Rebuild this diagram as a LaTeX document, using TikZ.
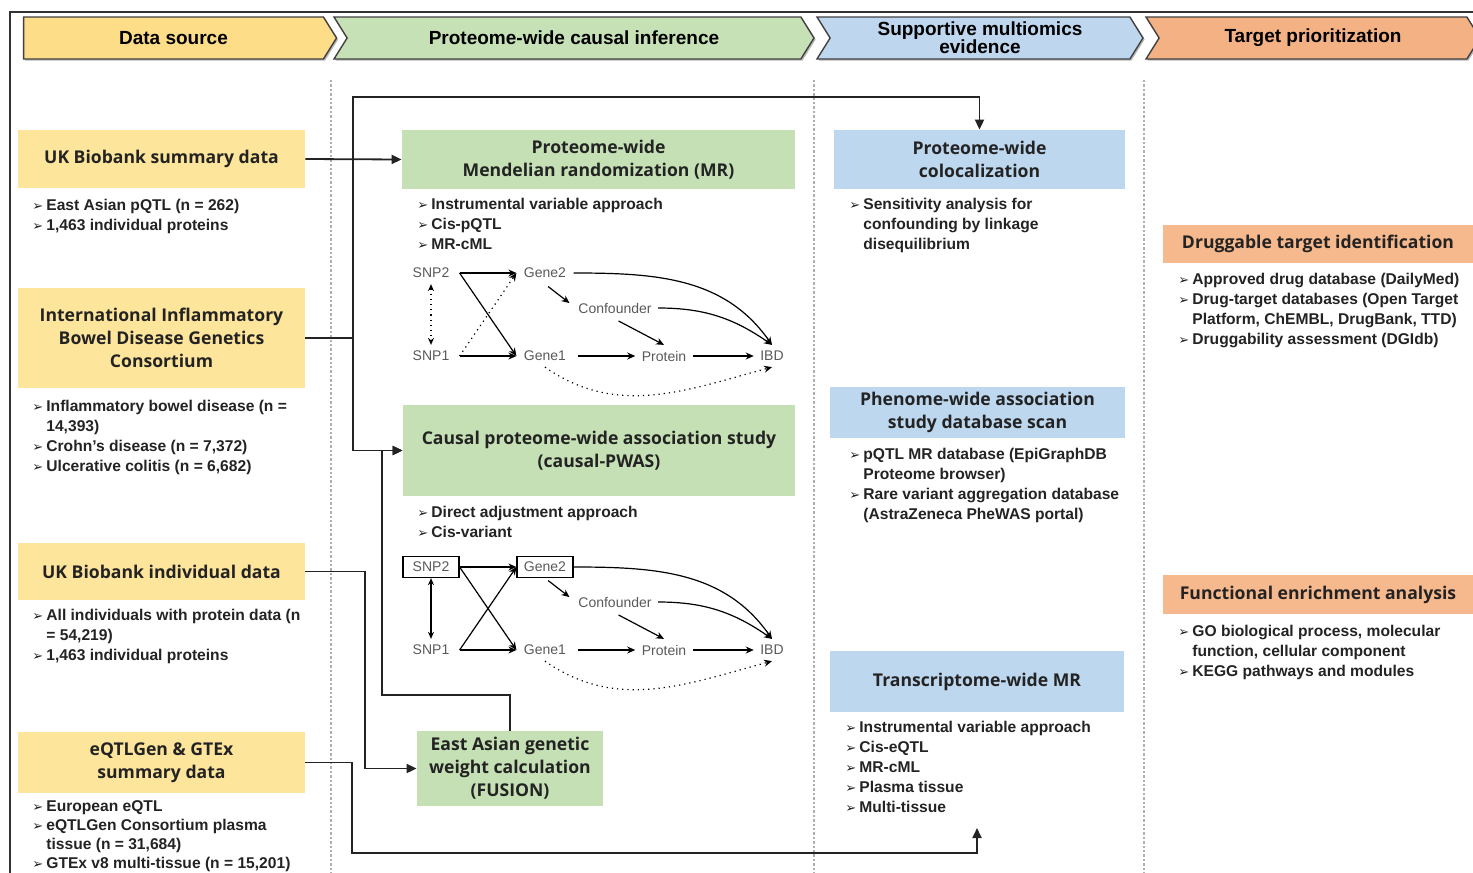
\documentclass[tikz,border=0pt]{standalone}
\usepackage{fontspec}
\setmainfont{Liberation Sans}
\newfontfamily\ttl{Open Sans}
\newfontfamily\sym{DejaVu Sans}
\usetikzlibrary{arrows.meta, positioning, shapes.symbols, shadows, calc}
\definecolor{YH}{RGB}{254,221,136}
\definecolor{YB}{RGB}{254,229,156}
\definecolor{GH}{RGB}{199,225,182}
\definecolor{GB}{RGB}{197,224,180}
\definecolor{BH}{RGB}{190,215,238}
\definecolor{BB}{RGB}{189,215,238}
\definecolor{OH}{RGB}{244,178,132}
\definecolor{OB}{RGB}{246,184,141}
\definecolor{DG}{RGB}{35,35,35}
\definecolor{LGr}{RGB}{175,175,175}
\newcommand{\bl}{\makebox[7pt][l]{\sym\fontsize{6.5}{6.5}\selectfont ➢}}
\newcommand{\ind}{\hspace*{7pt}}

\begin{document}
\begin{tikzpicture}[x=0.5pt, y=0.5pt,
  hd/.style={signal, signal to=east, fill=#1, draw=black!75, line width=0.7pt,
             minimum height=21pt, signal pointer angle=116, inner sep=0pt,
             align=center, font=\fontsize{9.5}{9}\selectfont\bfseries,
             drop shadow={shadow xshift=0.8pt, shadow yshift=-0.8pt, fill=black!55}},
  sbox/.style={fill=#1, inner sep=2pt, align=center, text=DG,
               font=\ttl\bfseries\fontsize{8.8}{11.5}\selectfont},
  lst/.style={anchor=north west, align=left, inner sep=0pt, text=DG,
              font=\fontsize{7.8}{10}\selectfont\bfseries},
  gn/.style={inner sep=1pt, minimum width=28pt, minimum height=10.5pt,
             font=\fontsize{7}{8}\selectfont, text=black!65, line width=0.6pt},
  conn/.style={-{Triangle[length=5pt, width=4.5pt]}, line width=0.9pt, draw=DG},
  ln/.style={line width=0.9pt, draw=DG},
  da/.style={-{Stealth[length=4pt, width=3.5pt]}, line width=0.6pt},
  sep/.style={draw=LGr, densely dotted, line width=1.2pt}
]
\useasboundingbox (0,0) rectangle (1473,-873);

% frame and column rules
\draw[line width=0.9pt, black!80] (10,-873) -- (10,-12) -- (1473,-12);
\foreach \x in {331,814,1144} \draw[sep] (\x,-80) -- (\x,-873);

% stage headers
\node[hd=YH, minimum width=156.5pt] (h1) at (173.5,-38) {Data source};
\node[hd=GH, signal from=west, minimum width=240pt] (h2) at (574,-38) {Proteome-wide causal inference};
\node[hd=BH, signal from=west, minimum width=163pt] (h3) at (980,-38) {Supportive multiomics\\evidence};
\node[hd=OH, signal from=west, minimum width=167pt] (h4) at (1313,-38) {Target prioritization};

% data sources
\node[sbox=YB, minimum width=143.5pt, minimum height=29pt] (ukbs) at (161.5,-159) {UK Biobank summary data};
\node[sbox=YB, minimum width=143.5pt, minimum height=50pt] (iibd) at (161.5,-338) {International Inflammatory\\Bowel Disease Genetics\\Consortium};
\node[sbox=YB, minimum width=143.5pt, minimum height=28.5pt] (ukbi) at (161.5,-571.5) {UK Biobank individual data};
\node[sbox=YB, minimum width=143.5pt, minimum height=30.5pt] (eqtl) at (161.5,-762.5) {eQTLGen \& GTEx\\summary data};

\node[lst] (l1) at (32,-199) {\bl East Asian pQTL (n = 262)\\\bl 1,463 individual proteins};
\node[lst] (l2) at (32,-400) {\bl Inflammatory bowel disease (n =\\\ind 14,393)\\\bl Crohn's disease (n = 7,372)\\\bl Ulcerative colitis (n = 6,682)};
\node[lst] (l3) at (32,-609) {\bl All individuals with protein data (n\\\ind = 54,219)\\\bl 1,463 individual proteins};
\node[lst, font=\fontsize{7.8}{9.5}\selectfont\bfseries] (l4) at (32,-800) {\bl European eQTL\\\bl eQTLGen Consortium plasma\\\ind tissue (n = 31,684)\\\bl GTEx v8 multi-tissue (n = 15,201)};

% causal inference
\node[sbox=GB, minimum width=196.5pt, minimum height=29.5pt] (mr) at (598.5,-159.5) {Proteome-wide\\Mendelian randomization (MR)};
\node[sbox=GB, minimum width=196pt, minimum height=45.5pt] (pwas) at (599,-450.5) {Causal proteome-wide association study\\(causal-PWAS)};
\node[sbox=GB, minimum width=93pt, minimum height=37.5pt] (fusion) at (510,-768.5) {East Asian genetic\\weight calculation\\(FUSION)};

\node[lst] (l5) at (417,-198) {\bl Instrumental variable approach\\\bl Cis-pQTL\\\bl MR-cML};
\node[lst] (l6) at (417,-506) {\bl Direct adjustment approach\\\bl Cis-variant};

\foreach \k/\dy/\ls/\bx in {1/0/dotted/none, 2/294/solid/black}{
  \node[gn, draw=\bx] (sb\k) at (431,{-273-\dy}) {SNP2};
  \node[gn, draw=\bx] (gb\k) at (545,{-273-\dy}) {Gene2};
  \node[gn] (sa\k) at (431,{-356-\dy}) {SNP1};
  \node[gn] (ga\k) at (545,{-356-\dy}) {Gene1};
  \node[gn, minimum width=0pt] (cf\k) at (615,{-308-\dy}) {Confounder};
  \node[gn, minimum width=0pt] (pr\k) at (664,{-356-\dy}) {Protein};
  \node[gn, minimum width=0pt] (ibd\k) at (772,{-356-\dy}) {IBD};
  \draw[da] (sb\k.east) -- (gb\k.west);
  \draw[da] (sb\k.east) -- (ga\k.west);
  \draw[da] (sa\k.east) -- (ga\k.west);
  \draw[da, \ls] (sa\k.east) -- (gb\k.west);
  \draw[da, \ls, {Stealth[length=3.5pt, width=3pt]}-{Stealth[length=3.5pt, width=3pt]}] (sb\k.south) -- (sa\k.north);
  \draw[da, shorten <=2pt, shorten >=4pt] (gb\k.south) -- (cf\k.west);
  \draw[da, shorten <=2pt] (cf\k.south) -- (pr\k.north);
  \draw[da, shorten <=2pt, shorten >=2pt] (ga\k.east) -- (pr\k.west);
  \draw[da, shorten <=2pt, shorten >=2pt] (pr\k.east) -- (ibd\k.west);
  \draw[da] (gb\k.east) to[out=0, in=125] (ibd\k.north);
  \draw[da, shorten <=2pt] (cf\k.east) to[out=0, in=145] (ibd\k.north);
  \draw[da, dotted] (ga\k.south) to[out=-35, in=-165] (ibd\k.south);
}

% multiomics evidence
\node[sbox=BB, minimum width=145.5pt, minimum height=29.5pt] (coloc) at (979.5,-159.5) {Proteome-wide\\colocalization};
\node[sbox=BB, minimum width=147.5pt, minimum height=25.5pt] (phewas) at (977.5,-412.5) {Phenome-wide association\\study database scan};
\node[sbox=BB, minimum width=147pt, minimum height=30.5pt] (twmr) at (977,-681.5) {Transcriptome-wide MR};

\node[lst] (l7) at (849,-198) {\bl Sensitivity analysis for\\\ind confounding by linkage\\\ind disequilibrium};
\node[lst] (l8) at (849,-448) {\bl pQTL MR database (EpiGraphDB\\\ind Proteome browser)\\\bl Rare variant aggregation database\\\ind (AstraZeneca PheWAS portal)};
\node[lst] (l9) at (845,-721) {\bl Instrumental variable approach\\\bl Cis-eQTL\\\bl MR-cML\\\bl Plasma tissue\\\bl Multi-tissue};

% prioritization
\node[sbox=OB, minimum width=155pt, minimum height=19pt] (drug) at (1318,-244) {Druggable target identification};
\node[sbox=OB, minimum width=155pt, minimum height=19.5pt] (enrich) at (1318,-594.5) {Functional enrichment analysis};

\node[lst] (l10) at (1178,-273) {\bl Approved drug database (DailyMed)\\\bl Drug-target databases (Open Target\\\ind Platform, ChEMBL, DrugBank, TTD)\\\bl Druggability assessment (DGIdb)};
\node[lst] (l11) at (1178,-625) {\bl GO biological process, molecular\\\ind function, cellular component\\\bl KEGG pathways and modules};

% connectors
\coordinate (jA) at (353,-338);
\coordinate (jB) at (365,-571.5);
\coordinate (jC) at (382,-695);
\coordinate (jD) at (352,-853);
\coordinate (tw) at (977,-828);

\draw[conn] (ukbs.east) -- (mr.west);
\draw[ln] (iibd.east) -- (jA);
\draw[conn] (jA) |- ([yshift=16.5pt]coloc.north) -- (coloc.north);
\draw[conn] (jA) |- (pwas.west);
\draw[conn] (ukbi.east) -- (jB) |- (fusion.west);
\draw[conn] (fusion.north) |- (jC) |- (pwas.west);
\draw[conn] (eqtl.east) -| (jD) -| (tw);
\end{tikzpicture}
\end{document}
